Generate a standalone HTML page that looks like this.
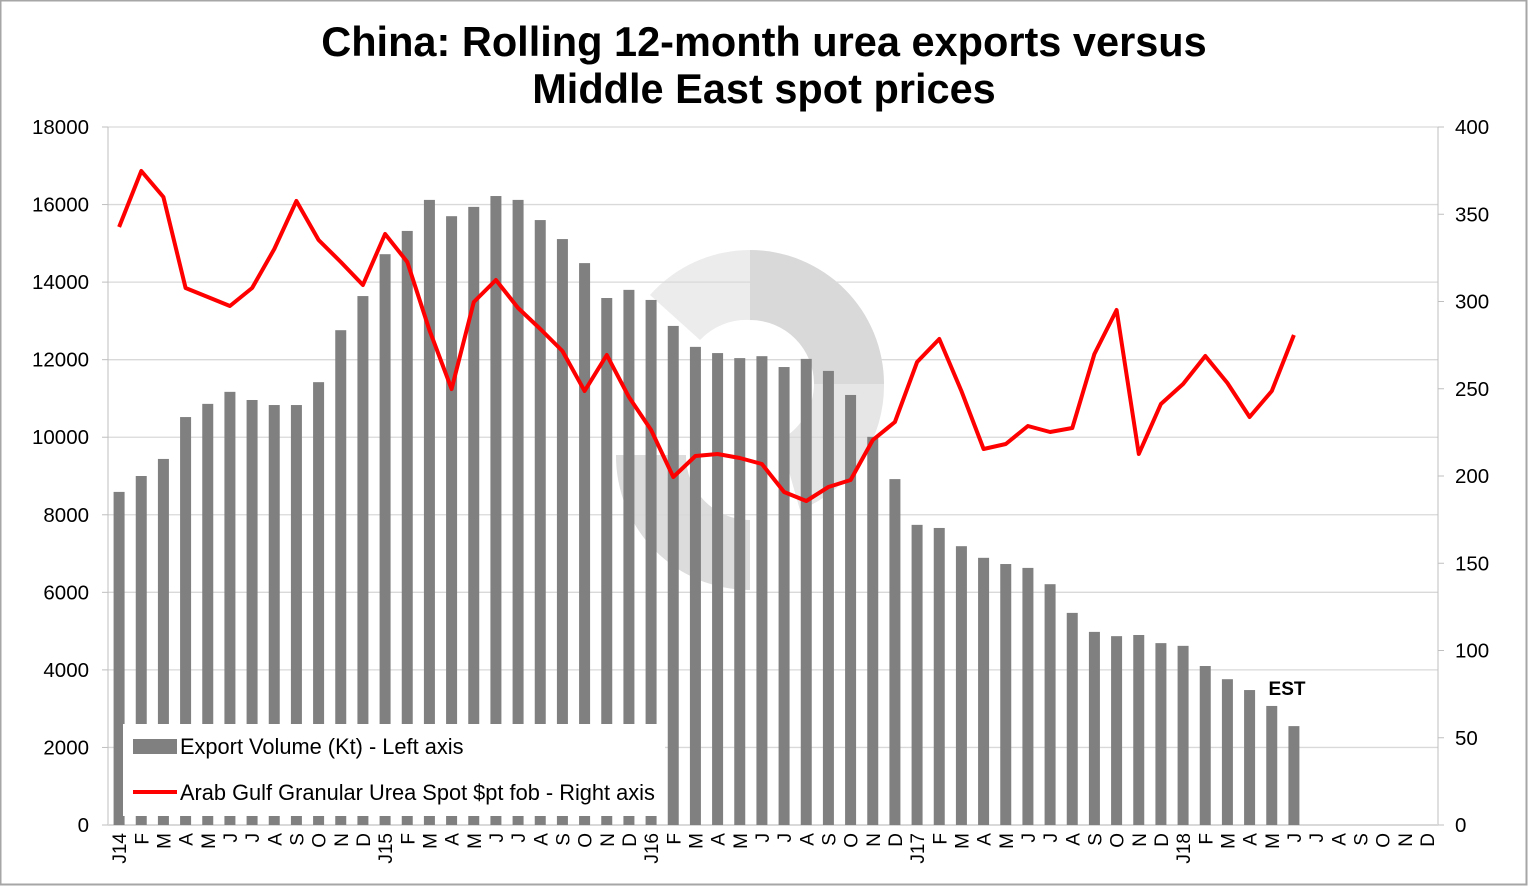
<!DOCTYPE html>
<html><head><meta charset="utf-8"><style>
html,body{margin:0;padding:0;background:#fff}
svg{display:block}
text{font-family:"Liberation Sans",Arial,sans-serif}
</style></head><body>
<svg id="c" width="1528" height="886" xmlns="http://www.w3.org/2000/svg">
<rect x="0.5" y="0.5" width="1526" height="884" fill="#fff" stroke="#a6a6a6" stroke-width="2"/>
<text x="764" y="56" text-anchor="middle" font-size="41.5" font-weight="bold">China: Rolling 12-month urea exports versus</text>
<text x="764" y="103" text-anchor="middle" font-size="41.5" font-weight="bold">Middle East spot prices</text>
<g id="wm" fill="#e3e3e3">
<path d="M750,250 A134,134 0 0 1 884,384 L814,384 A64,64 0 0 0 750,320 Z" fill="#d9d9d9"/>
<path d="M750,250 A134,134 0 0 0 650,295 L700,340 A64,64 0 0 1 750,320 Z" fill="#ececec"/>
<path d="M884,384 A134,134 0 0 1 800,510 L780,440 A64,64 0 0 0 814,384 Z" fill="#e6e6e6"/>
<path d="M616,455 L686,455 A64,64 0 0 0 750,520 L750,590 A134,134 0 0 1 616,455 Z" fill="#dcdcdc"/>
</g>
<g id="grid"></g>
<g id="bars"></g>
<rect x="123" y="724" width="542" height="92" fill="#fff"/>
<g id="line"></g>
<g id="lab"></g>
<rect x="133" y="739" width="44" height="15" fill="#808080"/>
<text x="180" y="754" font-size="21.8">Export Volume (Kt) - Left axis</text>
<line x1="133" y1="792" x2="177" y2="792" stroke="#ff0000" stroke-width="4"/>
<text x="180" y="800" font-size="21.8">Arab Gulf Granular Urea Spot $pt fob - Right axis</text>
<text x="1287" y="695" text-anchor="middle" font-size="19" font-weight="bold">EST</text>
</svg>
<script>
const ns="http://www.w3.org/2000/svg";
function el(p,t,a,txt){const e=document.createElementNS(ns,t);for(const k in a)e.setAttribute(k,a[k]);if(txt!==undefined)e.textContent=txt;document.getElementById(p).appendChild(e);return e;}
const X0=108,X1=1438,Y0=825,Y1=127,W=(X1-X0)/60;
for(let i=0;i<=9;i++){const y=Y0-(Y0-Y1)*i/9;
 if(i>0)el('grid','line',{x1:X0,x2:X1,y1:y,y2:y,stroke:'#d9d9d9','stroke-width':1.3});
 el('grid','line',{x1:X0-6,x2:X0,y1:y,y2:y,stroke:'#bfbfbf'});
 el('grid','text',{x:89,y:y+7,'text-anchor':'end','font-size':20.5},String(i*2000));}
for(let i=0;i<=8;i++){const y=Y0-(Y0-Y1)*i/8;
 el('grid','line',{x1:X1,x2:X1+6,y1:y,y2:y,stroke:'#bfbfbf'});
 el('grid','text',{x:1455,y:y+7,'font-size':20.5},String(i*50));}
el('grid','line',{x1:X0,x2:X0,y1:Y1,y2:Y0,stroke:'#bfbfbf'});
el('grid','line',{x1:X1,x2:X1,y1:Y1,y2:Y0,stroke:'#bfbfbf'});
const bars=[8590,9000,9440,10520,10860,11170,10960,10830,10830,11420,12760,13640,14720,15320,16120,15700,15940,16220,16120,15600,15110,14490,13590,13800,13540,12870,12330,12170,12040,12090,11810,12020,11710,11090,10010,8920,7740,7660,7190,6890,6730,6630,6210,5470,4980,4870,4900,4690,4620,4100,3760,3480,3070,2550];
bars.forEach((v,i)=>{const cx=X0+W*(i+0.5);const h=v/18000*(Y0-Y1);el('bars','rect',{x:cx-5.5,y:Y0-h,width:11,height:h,fill:'#808080'});});
el('grid','line',{x1:X0,x2:X1,y1:Y0,y2:Y0,stroke:'#d9d9d9','stroke-width':2});
const ly=[227,171,197,288,297,306,288,249,201,240,262,285,234,262,330,389,302,280,308,329,351,391,355,397,430,477,456,454,458,464,492,501,487,480,440,422,362,339,391,449,444,426,432,428,354,310,454,404,384,356,383,417,391,335];
el('line','polyline',{points:ly.map((y,i)=>(X0+W*(i+0.5)).toFixed(1)+','+y).join(' '),fill:'none',stroke:'#ff0000','stroke-width':4,'stroke-linejoin':'round'});
const m=['J','F','M','A','M','J','J','A','S','O','N','D'];
for(let i=0;i<60;i++){let t=m[i%12];if(i%12==0)t='J'+(14+i/12);
 const cx=X0+W*(i+0.5)+7;el('lab','text',{x:0,y:0,'font-size':19,'text-anchor':'end',transform:`translate(${cx},833) rotate(-90)`},t);}
</script>
</body></html>
